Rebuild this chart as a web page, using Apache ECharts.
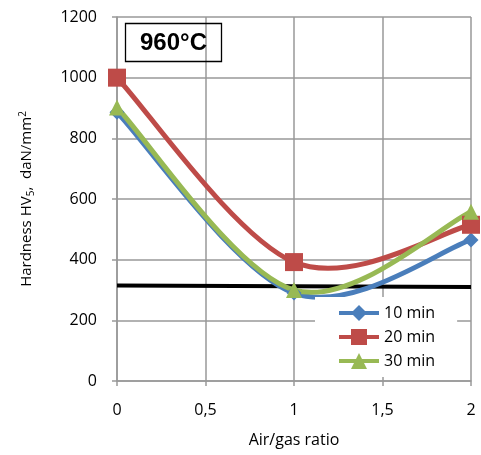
<!DOCTYPE html>
<html><head><meta charset="utf-8">
<script src="https://cdn.jsdelivr.net/npm/echarts@6/dist/echarts.min.js"></script>
<style>html,body{margin:0;padding:0;background:#fff}#c{width:481px;height:455px}</style>
</head><body><div id="c"></div>
<script>
const ratios = [0, 1, 2];
const min10 = [886, 290, 465];
const min20 = [1000, 392, 515];
const min30 = [902, 300, 558];
const limitX = [0, 2];
const limitY = [315, 310];
const xTicks = ['0', '0,5', '1', '1,5', '2'];
const yTicks = [0, 200, 400, 600, 800, 1000, 1200];

const font = 'Open Sans';
const colors = { '10 min': '#4a7ebb', '20 min': '#be4b48', '30 min': '#98b954' };
const chart = echarts.init(document.getElementById('c'));
const pair = (xs, ys) => xs.map((x, i) => [x, ys[i]]);

// Excel-like smoothed curve (Catmull-Rom Bezier through the data points, via the axes' scales)
function curveSeries(name, vals) {
  return {
    name: name + ' curve', type: 'custom', data: pair(ratios, vals), z: 2, silent: true,
    renderItem: (params, api) => {
      if (params.dataIndex !== 0) return { type: 'group', children: [] };
      const P = ratios.map((x, i) => api.coord([x, vals[i]]));
      let d = 'M' + P[0][0] + ' ' + P[0][1];
      for (let i = 0; i < P.length - 1; i++) {
        const p0 = P[Math.max(i - 1, 0)], p1 = P[i], p2 = P[i + 1], p3 = P[Math.min(i + 2, P.length - 1)];
        const c1 = [p1[0] + (p2[0] - p0[0]) / 6, p1[1] + (p2[1] - p0[1]) / 6];
        const c2 = [p2[0] - (p3[0] - p1[0]) / 6, p2[1] - (p3[1] - p1[1]) / 6];
        d += ' C' + c1[0] + ' ' + c1[1] + ' ' + c2[0] + ' ' + c2[1] + ' ' + p2[0] + ' ' + p2[1];
      }
      return { type: 'path', shape: { pathData: d },
        style: { fill: null, stroke: colors[name], lineWidth: 5, lineCap: 'round', lineJoin: 'round' } };
    }
  };
}
const markers = (name, vals, symbol, size) => ({
  name, type: 'line', data: pair(ratios, vals), symbol, symbolSize: size,
  itemStyle: { color: colors[name] }, lineStyle: { color: colors[name], width: 5, opacity: 0 }, z: 4
});
const legendItem = (name) => ({ name, lineStyle: { color: colors[name], width: 4, opacity: 1 } });

chart.setOption({
  animation: false,
  grid: { left: 117, right: 10, top: 17, bottom: 74 },
  title: {
    text: '960°C', left: 125, top: 23,
    borderColor: '#000', borderWidth: 1.3, padding: [8, 15, 7, 15],
    textStyle: { fontFamily: 'Liberation Sans', fontWeight: 'bold', fontSize: 24, color: '#000' }
  },
  legend: {
    data: ['10 min', '20 min', '30 min'].map(legendItem), orient: 'vertical',
    left: 315, top: 297, itemWidth: 40, itemHeight: 20, itemGap: 8,
    backgroundColor: '#fff', padding: [8, 22, 8, 22],
    textStyle: { fontFamily: font, fontSize: 16, color: '#000' }
  },
  xAxis: {
    type: 'value', min: 0, max: 2, interval: 0.5,
    name: 'Air/gas ratio', nameLocation: 'middle', nameGap: 51,
    nameTextStyle: { fontFamily: font, fontSize: 16, color: '#000' },
    axisLine: { lineStyle: { color: '#999', width: 1.5 } },
    axisTick: { show: true, length: 5, lineStyle: { color: '#999', width: 1.5 } },
    axisLabel: { margin: 21, fontFamily: font, fontSize: 16, color: '#000',
      formatter: v => xTicks[Math.round(v / 0.5)] },
    splitLine: { show: true, lineStyle: { color: '#999', width: 1.5 } }
  },
  yAxis: {
    type: 'value', min: 0, max: 1200, interval: 200,
    name: '{a|Hardness HV}{s|5}{a|,  daN/mm}{p|2}', nameLocation: 'middle', nameGap: 81, nameRotate: 90,
    nameTextStyle: { rich: {
      a: { fontFamily: font, fontSize: 15, color: '#000' },
      s: { fontFamily: font, fontSize: 10, color: '#000', verticalAlign: 'bottom', padding: [6, 0, 0, 0] },
      p: { fontFamily: font, fontSize: 10, color: '#000', verticalAlign: 'top', padding: [0, 0, 8, 0] }
    } },
    axisLine: { show: true, lineStyle: { color: '#999', width: 1.5 } },
    axisTick: { show: true, length: 5, lineStyle: { color: '#999', width: 1.5 } },
    axisLabel: { margin: 20, fontFamily: font, fontSize: 16, color: '#000', formatter: v => String(v) },
    splitLine: { show: true, lineStyle: { color: '#999', width: 1.5 } }
  },
  series: [
    { name: 'limit', type: 'line', data: pair(limitX, limitY), symbol: 'none',
      lineStyle: { color: '#000', width: 4 }, z: 1, silent: true },
    curveSeries('10 min', min10),
    curveSeries('20 min', min20),
    curveSeries('30 min', min30),
    markers('10 min', min10, 'diamond', 15),
    markers('20 min', min20, 'rect', 18),
    markers('30 min', min30, 'triangle', 16)
  ]
});
</script></body></html>
